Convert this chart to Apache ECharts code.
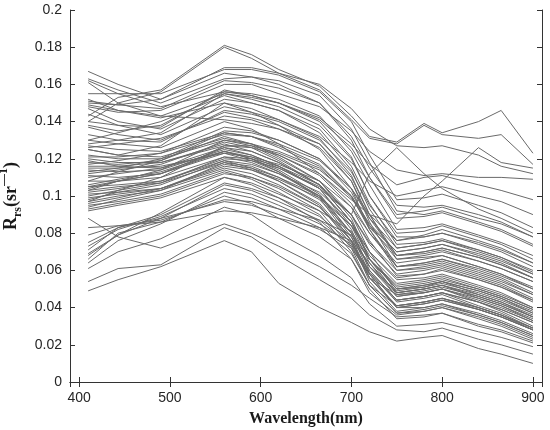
<!DOCTYPE html>
<html>
<head>
<meta charset="utf-8">
<script src="https://cdn.jsdelivr.net/npm/echarts@6/dist/echarts.min.js"></script>
<style>
html,body{margin:0;padding:0;background:#fff;}
#chart{width:550px;height:430px;}
</style>
</head>
<body>
<div id="chart"></div>
<script>
// Wavelength bands (nm)
const wavelengths = [410, 443, 490, 560, 590, 620, 665, 700, 720, 750, 780, 800, 840, 865, 900];

// Turbid waters with high NIR reflectance
const turbidSpectra = [
  [0.143,0.153,0.157,0.181,0.176,0.168,0.159,0.143,0.132,0.129,0.139,0.134,0.140,0.146,0.123],
  [0.140,0.150,0.156,0.180,0.174,0.166,0.157,0.141,0.131,0.128,0.138,0.133,0.131,0.133,0.117],
  [0.150,0.149,0.152,0.169,0.169,0.166,0.160,0.147,0.136,0.127,0.126,0.127,0.122,0.116,0.112],
  [0.105,0.108,0.112,0.124,0.121,0.115,0.104,0.090,0.112,0.126,0.112,0.104,0.093,0.088,0.080],
  [0.130,0.128,0.126,0.140,0.136,0.128,0.112,0.098,0.090,0.085,0.100,0.108,0.126,0.118,0.115],
  [0.148,0.145,0.146,0.160,0.160,0.155,0.148,0.135,0.124,0.114,0.111,0.112,0.110,0.110,0.109],
  [0.138,0.135,0.138,0.156,0.154,0.150,0.142,0.128,0.117,0.106,0.110,0.111,0.106,0.103,0.098],
  [0.125,0.122,0.127,0.150,0.147,0.141,0.132,0.118,0.108,0.100,0.103,0.105,0.100,0.097,0.090]
];

// Bright visible spectra
const brightSpectra = [
  [0.167,0.160,0.152,0.166,0.164,0.160,0.150,0.132,0.115,0.095,0.094,0.095,0.090,0.086,0.078],
  [0.163,0.157,0.150,0.163,0.164,0.162,0.154,0.136,0.118,0.092,0.090,0.092,0.086,0.082,0.074],
  [0.162,0.155,0.148,0.156,0.155,0.152,0.143,0.124,0.106,0.082,0.083,0.085,0.079,0.075,0.068],
  [0.155,0.155,0.155,0.168,0.168,0.165,0.156,0.140,0.122,0.098,0.099,0.101,0.095,0.091,0.083],
  [0.151,0.149,0.147,0.162,0.161,0.158,0.150,0.130,0.110,0.088,0.089,0.091,0.085,0.081,0.073],
  [0.149,0.146,0.143,0.155,0.153,0.150,0.140,0.121,0.100,0.078,0.078,0.080,0.074,0.070,0.062],
  [0.147,0.140,0.136,0.152,0.150,0.146,0.136,0.116,0.096,0.074,0.075,0.077,0.071,0.067,0.059],
  [0.144,0.138,0.133,0.148,0.145,0.141,0.131,0.111,0.090,0.068,0.069,0.071,0.065,0.061,0.054],
  [0.161,0.150,0.143,0.141,0.139,0.136,0.128,0.110,0.090,0.066,0.067,0.068,0.062,0.058,0.051],
  [0.140,0.138,0.137,0.157,0.154,0.150,0.141,0.126,0.110,0.090,0.092,0.094,0.088,0.085,0.078],
  [0.137,0.133,0.130,0.145,0.142,0.138,0.128,0.108,0.086,0.062,0.063,0.065,0.059,0.055,0.047],
  [0.128,0.130,0.134,0.155,0.152,0.148,0.138,0.120,0.100,0.080,0.081,0.084,0.078,0.074,0.066],
  [0.133,0.130,0.129,0.146,0.144,0.140,0.130,0.113,0.095,0.076,0.079,0.082,0.076,0.072,0.064],
  [0.130,0.134,0.140,0.154,0.150,0.146,0.134,0.114,0.093,0.072,0.074,0.076,0.070,0.066,0.058],
  [0.152,0.146,0.142,0.150,0.145,0.138,0.125,0.104,0.082,0.060,0.061,0.063,0.057,0.053,0.045]
];

// Moderate spectra (bulk of samples)
const moderateSpectra = [
  [0.127,0.125,0.124,0.134,0.132,0.126,0.116,0.100,0.082,0.062,0.064,0.066,0.060,0.056,0.048],
  [0.125,0.122,0.121,0.131,0.128,0.122,0.111,0.094,0.076,0.057,0.058,0.061,0.055,0.051,0.043],
  [0.122,0.120,0.120,0.130,0.127,0.120,0.108,0.090,0.070,0.048,0.050,0.052,0.046,0.042,0.035],
  [0.120,0.118,0.118,0.128,0.124,0.118,0.106,0.086,0.066,0.051,0.053,0.055,0.050,0.046,0.039],
  [0.118,0.117,0.119,0.132,0.128,0.121,0.108,0.088,0.066,0.050,0.052,0.054,0.049,0.045,0.037],
  [0.116,0.116,0.118,0.127,0.127,0.123,0.114,0.100,0.085,0.070,0.072,0.074,0.068,0.064,0.056],
  [0.114,0.113,0.114,0.125,0.122,0.116,0.104,0.084,0.064,0.046,0.048,0.050,0.044,0.040,0.033],
  [0.112,0.114,0.117,0.129,0.126,0.119,0.106,0.086,0.066,0.052,0.054,0.056,0.050,0.046,0.039],
  [0.111,0.110,0.112,0.123,0.121,0.117,0.108,0.094,0.080,0.064,0.066,0.068,0.062,0.058,0.050],
  [0.110,0.112,0.115,0.126,0.122,0.116,0.104,0.082,0.060,0.044,0.046,0.048,0.043,0.039,0.032],
  [0.108,0.108,0.110,0.121,0.120,0.116,0.106,0.090,0.074,0.058,0.060,0.062,0.056,0.052,0.044],
  [0.106,0.109,0.113,0.124,0.120,0.114,0.101,0.080,0.058,0.040,0.042,0.044,0.039,0.035,0.028],
  [0.105,0.106,0.108,0.119,0.117,0.112,0.102,0.086,0.070,0.055,0.056,0.058,0.052,0.048,0.040],
  [0.104,0.108,0.112,0.126,0.124,0.118,0.106,0.086,0.066,0.050,0.052,0.054,0.049,0.045,0.038],
  [0.103,0.105,0.107,0.118,0.114,0.108,0.096,0.076,0.056,0.041,0.043,0.045,0.040,0.036,0.029],
  [0.102,0.104,0.108,0.120,0.119,0.115,0.105,0.090,0.075,0.060,0.062,0.064,0.058,0.054,0.047],
  [0.101,0.102,0.104,0.115,0.112,0.106,0.094,0.076,0.058,0.044,0.046,0.048,0.043,0.039,0.032],
  [0.100,0.103,0.107,0.121,0.118,0.112,0.100,0.080,0.062,0.049,0.051,0.053,0.048,0.044,0.037],
  [0.099,0.101,0.104,0.117,0.115,0.110,0.100,0.084,0.068,0.053,0.055,0.057,0.051,0.047,0.040],
  [0.098,0.102,0.106,0.119,0.115,0.108,0.095,0.074,0.056,0.047,0.049,0.051,0.046,0.042,0.035],
  [0.097,0.100,0.103,0.114,0.110,0.104,0.092,0.072,0.052,0.037,0.039,0.041,0.036,0.032,0.025],
  [0.096,0.099,0.104,0.116,0.114,0.109,0.099,0.084,0.070,0.056,0.058,0.060,0.055,0.051,0.044],
  [0.095,0.097,0.101,0.113,0.109,0.102,0.090,0.070,0.052,0.041,0.043,0.045,0.040,0.036,0.029],
  [0.094,0.098,0.103,0.118,0.116,0.110,0.098,0.080,0.062,0.046,0.048,0.050,0.045,0.041,0.034],
  [0.093,0.096,0.100,0.112,0.110,0.105,0.094,0.078,0.062,0.048,0.050,0.052,0.047,0.043,0.036],
  [0.092,0.095,0.099,0.110,0.106,0.099,0.086,0.066,0.048,0.036,0.038,0.040,0.035,0.031,0.024],
  [0.113,0.115,0.120,0.135,0.134,0.130,0.120,0.104,0.088,0.072,0.074,0.076,0.071,0.067,0.060],
  [0.117,0.119,0.123,0.137,0.135,0.130,0.120,0.102,0.084,0.066,0.068,0.070,0.065,0.061,0.054],
  [0.121,0.121,0.123,0.133,0.132,0.128,0.119,0.104,0.090,0.076,0.078,0.080,0.075,0.071,0.064],
  [0.126,0.128,0.131,0.143,0.141,0.136,0.126,0.108,0.088,0.068,0.070,0.072,0.067,0.063,0.056],
  [0.108,0.113,0.119,0.134,0.132,0.127,0.117,0.100,0.083,0.068,0.070,0.072,0.067,0.063,0.056],
  [0.103,0.108,0.114,0.130,0.128,0.124,0.115,0.099,0.084,0.070,0.072,0.074,0.069,0.065,0.058],
  [0.115,0.115,0.116,0.123,0.119,0.113,0.100,0.078,0.056,0.040,0.042,0.044,0.039,0.035,0.028],
  [0.119,0.116,0.115,0.124,0.120,0.113,0.099,0.076,0.054,0.038,0.040,0.042,0.037,0.033,0.026],
  [0.097,0.103,0.110,0.127,0.126,0.122,0.112,0.096,0.080,0.062,0.064,0.066,0.061,0.057,0.050]
];

// Clearer waters with low reflectance
const clearSpectra = [
  [0.049,0.055,0.062,0.076,0.070,0.053,0.040,0.032,0.027,0.022,0.024,0.025,0.018,0.015,0.010],
  [0.054,0.061,0.063,0.083,0.078,0.068,0.055,0.045,0.036,0.028,0.027,0.029,0.023,0.020,0.015],
  [0.061,0.070,0.077,0.094,0.090,0.080,0.068,0.056,0.042,0.030,0.031,0.032,0.027,0.024,0.019],
  [0.088,0.078,0.072,0.085,0.080,0.073,0.062,0.052,0.045,0.035,0.036,0.037,0.031,0.028,0.022],
  [0.066,0.080,0.086,0.100,0.096,0.088,0.078,0.066,0.050,0.034,0.035,0.037,0.030,0.027,0.021],
  [0.071,0.083,0.088,0.097,0.095,0.090,0.082,0.072,0.058,0.040,0.040,0.042,0.036,0.032,0.025],
  [0.073,0.082,0.089,0.104,0.101,0.095,0.085,0.074,0.060,0.044,0.046,0.048,0.041,0.037,0.029],
  [0.079,0.084,0.086,0.092,0.091,0.088,0.083,0.076,0.064,0.048,0.050,0.052,0.045,0.041,0.033],
  [0.083,0.084,0.087,0.098,0.097,0.093,0.087,0.079,0.066,0.050,0.051,0.054,0.047,0.043,0.035],
  [0.069,0.079,0.091,0.110,0.107,0.101,0.092,0.081,0.066,0.047,0.048,0.050,0.043,0.038,0.030],
  [0.064,0.076,0.085,0.102,0.099,0.093,0.083,0.069,0.052,0.037,0.038,0.040,0.034,0.030,0.023],
  [0.068,0.079,0.088,0.106,0.103,0.097,0.087,0.073,0.056,0.041,0.043,0.045,0.039,0.035,0.028],
  [0.075,0.083,0.090,0.107,0.104,0.099,0.089,0.075,0.059,0.043,0.045,0.047,0.040,0.036,0.028]
];

// Axis settings
const xRange = [390, 910];
const yRange = [0, 0.2];
const yTicksInterval = 0.02;

const allSpectra = [].concat(turbidSpectra, brightSpectra, moderateSpectra, clearSpectra);

const series = allSpectra.map(function (vals, i) {
  return {
    type: 'line',
    name: 'S' + (i + 1),
    data: wavelengths.map(function (w, j) { return [w, vals[j]]; }),
    showSymbol: false,
    symbol: 'none',
    lineStyle: { color: '#6a6a6a', width: 1 },
    silent: true,
    animation: false,
    z: 2
  };
});

const axisColor = '#333333';
const labelStyle = { color: '#262626', fontFamily: 'Liberation Sans, Arial, sans-serif', fontSize: 14 };
const serif = 'Liberation Serif, Times New Roman, serif';

const chart = echarts.init(document.getElementById('chart'), null, { renderer: 'canvas' });
chart.setOption({
  backgroundColor: '#ffffff',
  animation: false,
  grid: { left: 70, right: 8, top: 10, bottom: 48, containLabel: false, outerBoundsMode: 'none' },
  xAxis: [
    {
      type: 'value', min: xRange[0], max: xRange[1], splitNumber: 5, position: 'bottom',
      axisLine: { show: true, lineStyle: { color: axisColor, width: 1 } },
      axisTick: { show: true, inside: true, length: 5, lineStyle: { color: axisColor } },
      splitLine: { show: false },
      axisLabel: Object.assign({ margin: 9, showMinLabel: false, showMaxLabel: false }, labelStyle),
      name: 'Wavelength(nm)', nameLocation: 'middle', nameGap: 29,
      nameTextStyle: { fontFamily: serif, fontWeight: 'bold', fontSize: 16, color: '#1a1a1a' }
    },
    {
      type: 'value', min: xRange[0], max: xRange[1], splitNumber: 5, position: 'top',
      axisLine: { show: true, lineStyle: { color: axisColor, width: 1 } },
      axisTick: { show: true, inside: true, length: 5, lineStyle: { color: axisColor } },
      splitLine: { show: false },
      axisLabel: { show: false }
    }
  ],
  yAxis: [
    {
      type: 'value', min: yRange[0], max: yRange[1], interval: yTicksInterval, position: 'left',
      axisLine: { show: true, lineStyle: { color: axisColor, width: 1 } },
      axisTick: { show: true, inside: true, length: 5, lineStyle: { color: axisColor } },
      splitLine: { show: false },
      axisLabel: Object.assign({ margin: 8, formatter: function (v) { return String(+v.toFixed(2)); } }, labelStyle),
      name: '{r|R}{sub|rs}{p|(sr}{sup|\u20141}{p|)}',
      nameLocation: 'middle', nameRotate: 90, nameGap: 40,
      nameTextStyle: {
        rich: {
          r: { fontFamily: serif, fontWeight: 'bold', fontSize: 18, color: '#1a1a1a', lineHeight: 26 },
          p: { fontFamily: serif, fontWeight: 'bold', fontSize: 18, color: '#1a1a1a', lineHeight: 26 },
          sub: { fontFamily: serif, fontWeight: 'bold', fontSize: 12, color: '#1a1a1a', verticalAlign: 'bottom', lineHeight: 12 },
          sup: { fontFamily: serif, fontWeight: 'bold', fontSize: 12, color: '#1a1a1a', verticalAlign: 'top', lineHeight: 12 }
        }
      }
    },
    {
      type: 'value', min: yRange[0], max: yRange[1], interval: yTicksInterval, position: 'right',
      axisLine: { show: true, lineStyle: { color: axisColor, width: 1 } },
      axisTick: { show: true, inside: true, length: 5, lineStyle: { color: axisColor } },
      splitLine: { show: false },
      axisLabel: { show: false }
    }
  ],
  series: series
});
</script>
</body>
</html>
